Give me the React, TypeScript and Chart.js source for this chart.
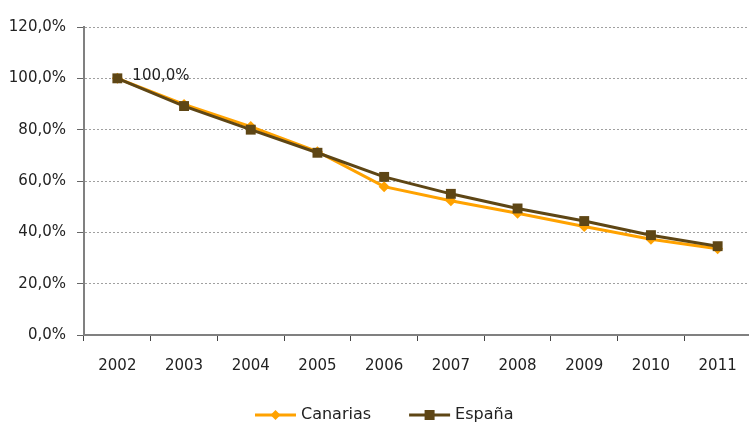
import React, { useEffect, useRef } from "react";
import { Chart, registerables } from "chart.js";

Chart.register(...registerables);

const years = ["2002", "2003", "2004", "2005", "2006", "2007", "2008", "2009", "2010", "2011"];
const canarias = [100, 89.8, 81.2, 71.4, 57.8, 52.3, 47.4, 42.3, 37.3, 33.6];
const espana = [100, 89.2, 80.0, 71.0, 61.6, 55.0, 49.3, 44.4, 38.9, 34.6];
const yTicks = [0, 20, 40, 60, 80, 100, 120];
const seriesNames = ["Canarias", "España"];

const ORANGE = "#FFA200";
const BROWN = "#5E4615";
const FONT = "'DejaVu Sans', sans-serif";

const fmt = (v: number) => v.toFixed(1).replace(".", ",") + "%";

const dataLabelPlugin = {
  id: "firstLabel",
  afterDatasetsDraw(chart: any) {
    const meta = chart.getDatasetMeta(1);
    const pt = meta.data[0];
    if (!pt) return;
    const ctx = chart.ctx;
    ctx.save();
    ctx.font = `15px ${FONT}`;
    ctx.fillStyle = "#222";
    ctx.textAlign = "left";
    ctx.textBaseline = "middle";
    ctx.fillText(fmt(espana[0]), pt.x + 15, pt.y - 2);
    ctx.restore();
  },
};

// bottom legend: line with marker, then label
const legendPlugin = {
  id: "lineLegend",
  afterDraw(chart: any) {
    const ctx = chart.ctx;
    const lineLen = 41;
    const gapText = 5;
    const gapItems = 38;
    const cy = 415;
    const centerX = 384;
    ctx.save();
    ctx.font = `16px ${FONT}`;
    const widths = chart.data.datasets.map((ds: any) => lineLen + gapText + ctx.measureText(ds.label).width);
    const total = widths.reduce((a: number, b: number) => a + b, 0) + gapItems * (widths.length - 1);
    let x = Math.round(centerX - total / 2);
    chart.data.datasets.forEach((ds: any, i: number) => {
      const color = ds.borderColor;
      ctx.strokeStyle = color;
      ctx.lineWidth = 3;
      ctx.beginPath();
      ctx.moveTo(x, cy);
      ctx.lineTo(x + lineLen, cy);
      ctx.stroke();
      ctx.fillStyle = color;
      const mx = x + lineLen / 2;
      if (ds.pointStyle === "rect") {
        ctx.fillRect(mx - 5, cy - 5, 10, 10);
      } else {
        ctx.beginPath();
        ctx.moveTo(mx, cy - 5);
        ctx.lineTo(mx + 5, cy);
        ctx.lineTo(mx, cy + 5);
        ctx.lineTo(mx - 5, cy);
        ctx.closePath();
        ctx.fill();
      }
      ctx.fillStyle = "#222";
      ctx.textAlign = "left";
      ctx.textBaseline = "middle";
      ctx.fillText(ds.label, x + lineLen + gapText, cy);
      x += widths[i] + gapItems;
    });
    ctx.restore();
  },
};

export default function App() {
  const ref = useRef<HTMLCanvasElement>(null);
  useEffect(() => {
    const canvas = ref.current!;
    const chart = new Chart(canvas, {
      type: "line",
      data: {
        labels: years,
        datasets: [
          {
            label: seriesNames[0],
            data: canarias,
            borderColor: ORANGE,
            backgroundColor: ORANGE,
            borderWidth: 3,
            pointStyle: "rectRot",
            pointRadius: 5.5,
            pointBorderWidth: 0,
            tension: 0,
            order: 2,
          },
          {
            label: seriesNames[1],
            data: espana,
            borderColor: BROWN,
            backgroundColor: BROWN,
            borderWidth: 3,
            pointStyle: "rect",
            pointRadius: 7,
            pointBorderWidth: 0,
            tension: 0,
            order: 1,
          },
        ],
      },
      options: {
        responsive: false,
        animation: false,
        layout: { padding: { top: 27, right: 0, left: 0, bottom: 58 } },
        plugins: {
          tooltip: { enabled: false },
          legend: { display: false },
        },
        scales: {
          x: {
            offset: true,
            afterFit: (s: any) => {
              s.height = 40;
            },
            grid: {
              offset: true,
              drawOnChartArea: false,
              drawTicks: true,
              tickLength: 6,
              tickColor: "#444",
            },
            border: { display: true, color: "#808080", width: 2 },
            ticks: {
              font: { family: FONT, size: 15 },
              color: "#222",
              padding: 16,
              maxRotation: 0,
            },
          },
          y: {
            min: 0,
            max: 120,
            afterFit: (s: any) => {
              s.width = 84;
            },
            afterBuildTicks: (s: any) => {
              s.ticks = yTicks.map((v) => ({ value: v }));
            },
            grid: {
              color: "#a0a0a0",
              lineWidth: 1,
              tickLength: 7,
              tickColor: "#666",
              tickBorderDash: [],
            },
            border: { display: true, color: "#808080", width: 2, dash: [2, 2] },
            ticks: {
              font: { family: FONT, size: 15 },
              color: "#222",
              padding: 11,
              callback: (v: any) => fmt(Number(v)),
            },
          },
        },
      },
      plugins: [dataLabelPlugin, legendPlugin],
    });
    return () => chart.destroy();
  }, []);
  return (
    <div style={{ position: "fixed", left: 0, top: 0, width: 758, height: 433, background: "#fff" }}>
      <canvas ref={ref} width={758} height={433} style={{ display: "block" }} />
    </div>
  );
}
